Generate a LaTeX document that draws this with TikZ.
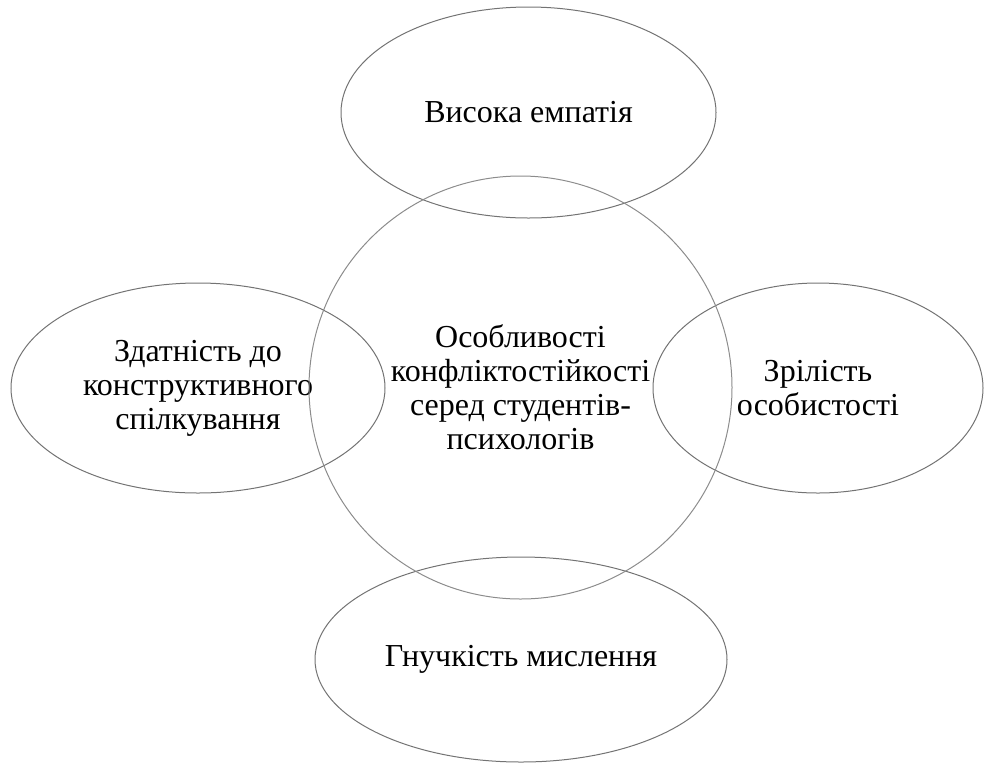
\documentclass[tikz,border=0pt]{standalone}
\usepackage{fontspec}
\setmainfont{Liberation Serif}
\usetikzlibrary{shapes.geometric}
\tikzset{
  bubble/.style={draw=black!55, line width=1pt, ellipse, inner sep=0pt, align=center,
    font=\fontsize{32}{34}\selectfont},
}
\begin{document}
\begin{tikzpicture}[x=1pt,y=-1pt]
\useasboundingbox (0,0) rectangle (984,764);
\node[bubble, minimum width=375pt, minimum height=211pt] (top) at (528.5,112.5) {Висока емпатія};
\node[bubble, minimum width=374pt, minimum height=210pt] (left) at (198,388) {Здатність до\\конструктивного\\спілкування};
\node[bubble, minimum width=330pt, minimum height=210pt] (right) at (818,388) {Зрілість\\особистості};
\node[bubble, minimum width=412pt, minimum height=205pt] (bottom) at (521,659.5) {Гнучкість мислення};
\node[bubble, draw=black!45, minimum width=423pt, minimum height=423pt] (center) at (520.5,387.5) {Особливості\\конфліктостійкості\\серед студентів-\\психологів};
\end{tikzpicture}
\end{document}
